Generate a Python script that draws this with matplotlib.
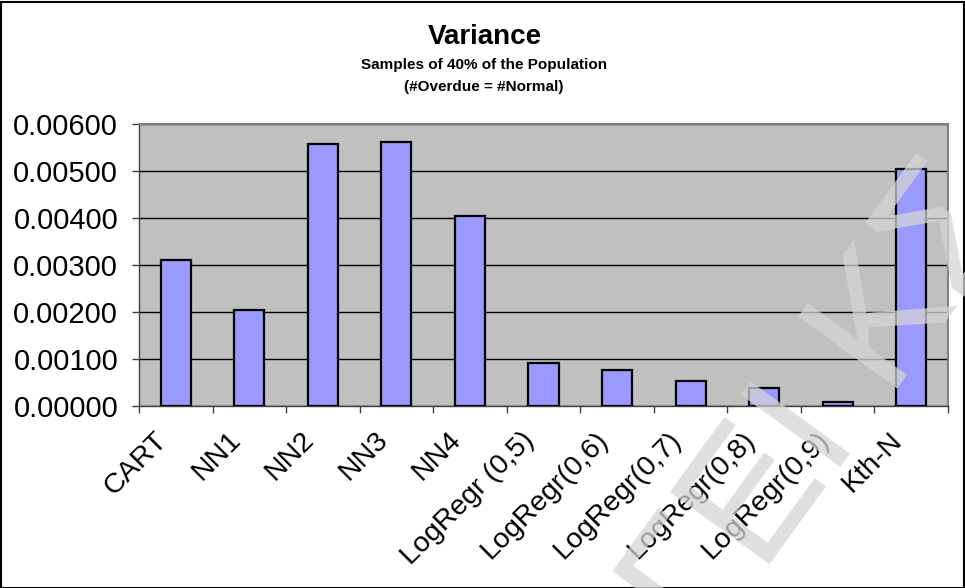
import matplotlib
matplotlib.use("Agg")
import matplotlib.pyplot as plt
import matplotlib.transforms as mtransforms
from matplotlib.patches import Rectangle
import numpy as np

# Variance of each classifier over samples of 40% of the population
models = ["CART", "NN1", "NN2", "NN3", "NN4", "LogRegr (0,5)", "LogRegr(0,6)",
          "LogRegr(0,7)", "LogRegr(0,8)", "LogRegr(0,9)", "Kth-N"]
variance = [0.00311, 0.00204, 0.00558, 0.00562, 0.00405, 0.00091, 0.00077,
            0.00053, 0.00038, 0.00009, 0.00504]
y_ticks = [0.0, 0.001, 0.002, 0.003, 0.004, 0.005, 0.006]

title = "Variance"
subtitle = "Samples of 40% of the Population"
subtitle2 = "(#Overdue = #Normal)"

plt.rcParams["font.family"] = ["Liberation Sans", "DejaVu Sans"]

fig = plt.figure(figsize=(9.65, 5.88), dpi=100)
fig.patch.set_facecolor("white")

ax = fig.add_axes([139 / 965, 1 - 406 / 588, (948 - 139) / 965, (406 - 124) / 588])
ax.set_facecolor("#C0C0C0")

x = np.arange(len(models)) + 0.5
ax.bar(x, variance, width=0.41, color="#9999FF", edgecolor="black",
       linewidth=1.6, zorder=3)

ax.set_xlim(0, len(models))
ax.set_ylim(0, 0.006)
ax.set_yticks(y_ticks)
ax.set_yticklabels([f"{v:.5f}" for v in y_ticks], fontsize=21)
ax.yaxis.grid(True, color="black", linewidth=1.0, zorder=1)
ax.set_axisbelow(True)

# category boundary ticks on the x axis, labels at category centers
ax.set_xticks(np.arange(len(models) + 1))
ax.set_xticklabels([])
ax.set_xticks(x, minor=True)
ax.set_xticklabels(models, minor=True, rotation=45, ha="right", va="top",
                   rotation_mode="anchor", fontsize=20.5)
ax.tick_params(axis="x", which="major", direction="out", length=5, width=1,
               color="#404040")
ax.tick_params(axis="x", which="minor", length=0, pad=15)
ax.tick_params(axis="y", direction="out", length=5, width=1, color="#404040",
               pad=10)
shift = mtransforms.ScaledTranslation(-22 / 100, 0, fig.dpi_scale_trans)
for lbl in ax.get_xticklabels(minor=True):
    lbl.set_transform(lbl.get_transform() + shift)

for side in ("top", "right"):
    ax.spines[side].set_color("#808080")
    ax.spines[side].set_linewidth(1.5)
for side in ("left", "bottom"):
    ax.spines[side].set_color("#404040")
    ax.spines[side].set_linewidth(1.0)

fig.text(485 / 965, 1 - 37 / 588, title, ha="center", va="center",
         fontsize=20, fontweight="bold")
fig.text(484 / 965, 1 - 65 / 588, subtitle, ha="center", va="center",
         fontsize=11, fontweight="bold")
fig.text(484 / 965, 1 - 87 / 588, subtitle2, ha="center", va="center",
         fontsize=11, fontweight="bold")

# faint diagonal watermark
fig.text(600 / 965, 1 - 640 / 588, "ΓΕΙ ΚΣ", rotation=54, ha="left",
         va="baseline", fontsize=128, color="#D5D5D5", alpha=0.75,
         family=["Liberation Sans", "DejaVu Sans"], zorder=10)

# outer frame
fig.add_artist(Rectangle((0.5 / 965, 0.5 / 588), 963 / 965, 586 / 588,
                         transform=fig.transFigure, fill=False,
                         edgecolor="black", linewidth=1.5))

fig.savefig("out.png", dpi=100)
